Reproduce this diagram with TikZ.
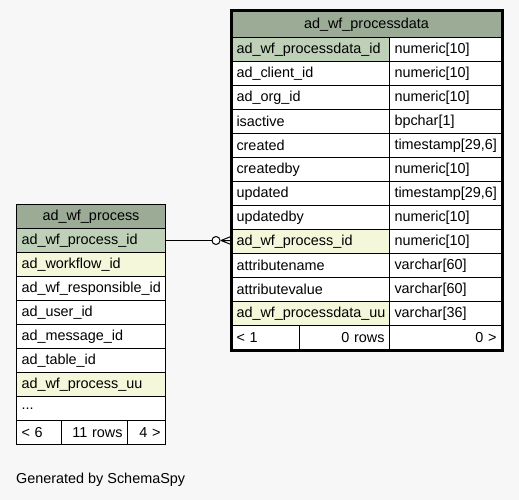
\documentclass[tikz,border=0pt]{standalone}
\usepackage{fontspec}
\setmainfont{Liberation Sans}
\usetikzlibrary{calc}
\definecolor{bgcol}{HTML}{F7F7F7}
\definecolor{hdrcol}{HTML}{9BAB96}
\definecolor{pkcol}{HTML}{BED1B8}
\definecolor{fkcol}{HTML}{F4F7DA}
\tikzset{
  cellbox/.style={draw=black, line width=1pt, rectangle, anchor=north west,
    inner xsep=5pt, inner ysep=0pt, minimum height=24pt,
    font=\fontsize{14.4}{17}\selectfont},
}
\newcommand\mycell[8]{%
  \pgfmathsetmacro\mytw{#4-10}%
  \node[cellbox, fill=#6, align=#7, minimum width=#4pt, text width=\mytw pt, minimum height=#5pt] (#1) at (#2,#3) {#8};}
\begin{document}
\begin{tikzpicture}[x=1pt,y=-1pt]
\useasboundingbox[fill=bgcol] (0,0) rectangle (519,500);
% left table
\mycell{lh}{16}{204}{149}{24}{hdrcol}{center}{ad\_wf\_process}
\mycell{lpk}{16}{228}{149}{24}{pkcol}{left}{ad\_wf\_process\_id}
\mycell{l2}{16}{252}{149}{24}{fkcol}{left}{ad\_workflow\_id}
\mycell{l3}{16}{276}{149}{24}{white}{left}{ad\_wf\_responsible\_id}
\mycell{l4}{16}{300}{149}{24}{white}{left}{ad\_user\_id}
\mycell{l5}{16}{324}{149}{24}{white}{left}{ad\_message\_id}
\mycell{l6}{16}{348}{149}{24}{white}{left}{ad\_table\_id}
\mycell{l7}{16}{372}{149}{24}{fkcol}{left}{ad\_wf\_process\_uu}
\mycell{l8}{16}{396}{149}{24}{white}{left}{...}
\mycell{lf1}{16}{420}{45}{24}{white}{left}{< 6}
\mycell{lf2}{61}{420}{66}{24}{white}{right}{11 rows}
\mycell{lf3}{127}{420}{38}{24}{white}{right}{4 >}
% right table
\mycell{rh}{231}{11}{270}{26}{hdrcol}{center}{ad\_wf\_processdata}
\mycell{ra1}{231}{37}{158}{24}{pkcol}{left}{ad\_wf\_processdata\_id}
\mycell{rb1}{389}{37}{112}{24}{white}{left}{numeric[10]}
\mycell{ra2}{231}{61}{158}{24}{white}{left}{ad\_client\_id}
\mycell{rb2}{389}{61}{112}{24}{white}{left}{numeric[10]}
\mycell{ra3}{231}{85}{158}{24}{white}{left}{ad\_org\_id}
\mycell{rb3}{389}{85}{112}{24}{white}{left}{numeric[10]}
\mycell{ra4}{231}{109}{158}{24}{white}{left}{isactive}
\mycell{rb4}{389}{109}{112}{24}{white}{left}{bpchar[1]}
\mycell{ra5}{231}{133}{158}{24}{white}{left}{created}
\mycell{rb5}{389}{133}{112}{24}{white}{left}{timestamp[29,6]}
\mycell{ra6}{231}{157}{158}{24}{white}{left}{createdby}
\mycell{rb6}{389}{157}{112}{24}{white}{left}{numeric[10]}
\mycell{ra7}{231}{181}{158}{24}{white}{left}{updated}
\mycell{rb7}{389}{181}{112}{24}{white}{left}{timestamp[29,6]}
\mycell{ra8}{231}{205}{158}{24}{white}{left}{updatedby}
\mycell{rb8}{389}{205}{112}{24}{white}{left}{numeric[10]}
\mycell{rfk}{231}{229}{158}{24}{fkcol}{left}{ad\_wf\_process\_id}
\mycell{rb9}{389}{229}{112}{24}{white}{left}{numeric[10]}
\mycell{ra10}{231}{253}{158}{24}{white}{left}{attributename}
\mycell{rb10}{389}{253}{112}{24}{white}{left}{varchar[60]}
\mycell{ra11}{231}{277}{158}{24}{white}{left}{attributevalue}
\mycell{rb11}{389}{277}{112}{24}{white}{left}{varchar[60]}
\mycell{ra12}{231}{301}{158}{24}{fkcol}{left}{ad\_wf\_processdata\_uu}
\mycell{rb12}{389}{301}{112}{24}{white}{left}{varchar[36]}
\mycell{rf1}{231}{325}{68}{24}{white}{left}{< 1}
\mycell{rf2}{299}{325}{90}{24}{white}{right}{0 rows}
\mycell{rf3}{389}{325}{112}{24}{white}{right}{0 >}
\draw[line width=3pt] (rh.north west) rectangle (rf3.south east);
% connector
\coordinate (cf) at (lpk.east -| rfk.west);
\draw[line width=1pt] (lpk.east) -- ($(cf)+(-19,0)$);
\draw[line width=1pt, fill=white] ($(cf)+(-15,0)$) circle (4pt);
\draw[line width=1pt] ($(cf)+(-10,0)$) -- ($(cf)+(0,-4)$)
  ($(cf)+(-10,0)$) -- (cf)
  ($(cf)+(-10,0)$) -- ($(cf)+(0,4)$);
\node[anchor=west, inner sep=0pt, font=\fontsize{14.4}{17}\selectfont] (gen) at (16,480) {Generated by SchemaSpy};
\end{tikzpicture}
\end{document}
